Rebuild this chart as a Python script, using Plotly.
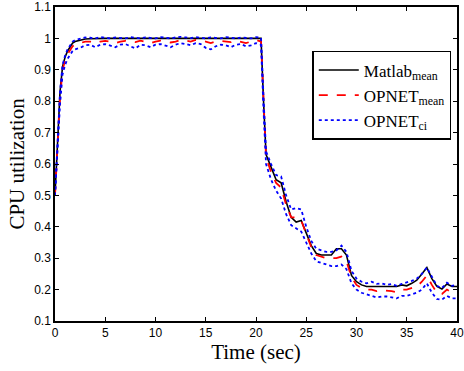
import plotly.graph_objects as go

time_s = [0, 0.25, 0.5, 0.75, 1, 1.25, 1.5, 1.75, 2,
          2.5, 3, 3.5, 4, 4.5, 5, 5.5, 6, 6.5, 7, 7.5, 8, 8.5, 9, 9.5, 10, 10.5, 11, 11.5, 12,
          12.5, 13, 13.5, 14, 14.5, 15, 15.5, 16, 16.5, 17, 17.5, 18, 18.5, 19, 19.5, 20, 20.5,
          20.75, 21,
          21.5, 22, 22.5, 23, 23.5, 24, 24.5, 25, 25.5, 26, 26.5, 27, 27.5, 28, 28.5, 29, 29.5,
          30, 30.5, 31, 31.5, 32, 32.5, 33, 33.5, 34, 34.5, 35, 35.5, 36, 36.5, 37, 37.5, 38,
          38.5, 39, 39.5, 40]

matlab_mean = [0.5, 0.68, 0.83, 0.91, 0.94, 0.96, 0.975, 0.985, 0.99,
               0.995, 0.998, 0.999, 1.0, 1.0, 1.0, 1.0, 1.0, 1.0, 1.0, 1.0, 1.0, 1.0, 1.0, 1.0,
               1.0, 1.0, 1.0, 1.0, 1.0, 1.0, 1.0, 1.0, 1.0, 1.0, 1.0, 1.0, 1.0, 1.0, 1.0, 1.0,
               1.0, 1.0, 1.0, 1.0, 1.0, 1.0,
               0.80, 0.63,
               0.59, 0.55, 0.54, 0.48, 0.43, 0.415, 0.42, 0.38, 0.34, 0.315,
               0.31, 0.31, 0.31, 0.33, 0.33, 0.31, 0.245, 0.225, 0.215, 0.21,
               0.21, 0.21, 0.21, 0.21, 0.212, 0.21, 0.215, 0.212, 0.22, 0.23,
               0.25, 0.27, 0.235, 0.21, 0.202, 0.218, 0.21, 0.21]

opnet_mean = [0.5, 0.66, 0.81, 0.9, 0.93, 0.95, 0.965, 0.975, 0.98,
              0.985, 0.99, 0.99, 0.985, 0.99, 0.992, 0.99, 0.985, 0.99, 0.992,
              0.99, 0.988, 0.993, 0.99, 0.985, 0.99, 0.993, 0.99, 0.987, 0.99,
              0.995, 0.993, 0.99, 0.995, 0.993, 0.99, 0.985, 0.99, 0.992, 0.99,
              0.988, 0.993, 0.99, 0.985, 0.99, 0.995, 0.99,
              0.79, 0.62,
              0.575, 0.54, 0.525, 0.47, 0.43, 0.43, 0.42, 0.375, 0.335, 0.31,
              0.305, 0.3, 0.3, 0.3, 0.305, 0.29, 0.24, 0.215, 0.205, 0.2,
              0.2, 0.195, 0.198, 0.197, 0.195, 0.192, 0.2, 0.2, 0.205, 0.21,
              0.225, 0.245, 0.215, 0.19, 0.186, 0.2, 0.19, 0.19]

opnet_ci_upper = [0.5, 0.68, 0.83, 0.915, 0.945, 0.965, 0.98, 0.99, 0.995,
                  1.0, 1.003, 1.002, 1.0, 1.004, 1.002, 1.0, 1.003, 1.002, 1.0,
                  1.004, 1.002, 1.0, 1.003, 1.001, 1.0, 1.004, 1.002, 1.0, 1.003,
                  1.005, 1.003, 1.001, 1.004, 1.002, 1.0, 1.003, 1.002, 1.0, 1.004,
                  1.002, 1.0, 1.003, 1.002, 1.0, 1.004, 1.002,
                  0.81, 0.64,
                  0.6, 0.565, 0.56, 0.5, 0.455, 0.46, 0.455, 0.4, 0.355, 0.33,
                  0.325, 0.32, 0.32, 0.325, 0.34, 0.32, 0.26, 0.235, 0.225, 0.22,
                  0.225, 0.218, 0.22, 0.215, 0.218, 0.212, 0.218, 0.222, 0.228, 0.235,
                  0.25, 0.27, 0.24, 0.212, 0.205, 0.222, 0.212, 0.215]

opnet_ci_lower = [0.5, 0.64, 0.79, 0.885, 0.915, 0.935, 0.95, 0.96, 0.965,
                  0.97, 0.978, 0.98, 0.972, 0.98, 0.982, 0.978, 0.972, 0.98, 0.982,
                  0.975, 0.968, 0.98, 0.978, 0.972, 0.98, 0.982, 0.978, 0.972, 0.98,
                  0.985, 0.982, 0.978, 0.985, 0.982, 0.97, 0.965, 0.975, 0.98, 0.978,
                  0.972, 0.98, 0.982, 0.975, 0.978, 0.985, 0.98,
                  0.77, 0.60,
                  0.55, 0.515, 0.49, 0.44, 0.405, 0.395, 0.385, 0.35, 0.315, 0.29,
                  0.285, 0.28, 0.275, 0.275, 0.28, 0.265, 0.22, 0.2, 0.19, 0.185,
                  0.18, 0.175, 0.178, 0.178, 0.175, 0.172, 0.18, 0.18, 0.185, 0.19,
                  0.2, 0.22, 0.19, 0.17, 0.168, 0.18, 0.172, 0.172]

x_ticks = [0, 5, 10, 15, 20, 25, 30, 35, 40]
y_ticks = [0.1, 0.2, 0.3, 0.4, 0.5, 0.6, 0.7, 0.8, 0.9, 1.0, 1.1]
y_tick_labels = ["0.1", "0.2", "0.3", "0.4", "0.5", "0.6", "0.7", "0.8", "0.9", "1", "1.1"]

fig = go.Figure()
fig.add_trace(go.Scatter(x=time_s, y=matlab_mean, mode="lines",
                         name="Matlab<sub>mean</sub>", legendrank=1,
                         line=dict(color="black", width=1.6)))
fig.add_trace(go.Scatter(x=time_s, y=opnet_mean, mode="lines",
                         name="OPNET<sub>mean</sub>", legendrank=2,
                         line=dict(color="#ff0000", width=1.8, dash="dash")))
fig.add_trace(go.Scatter(x=time_s, y=opnet_ci_upper, mode="lines",
                         name="OPNET<sub>ci</sub>", legendrank=3,
                         line=dict(color="#0000ff", width=1.8, dash="dot")))
fig.add_trace(go.Scatter(x=time_s, y=opnet_ci_lower, mode="lines",
                         name="OPNET<sub>ci</sub>", showlegend=False,
                         line=dict(color="#0000ff", width=1.8, dash="dot")))

axis_common = dict(showline=True, linecolor="black", linewidth=1.5, mirror="ticks",
                   ticks="inside", ticklen=4, tickcolor="black", showgrid=False,
                   zeroline=False, automargin=False,
                   tickfont=dict(family="Liberation Sans, Arial", size=12, color="black"))

fig.update_xaxes(range=[0, 40], tickvals=x_ticks,
                 title=dict(text="Time (sec)", standoff=2,
                            font=dict(family="Liberation Serif, Times New Roman", size=21, color="black")),
                 **axis_common)
fig.update_yaxes(range=[0.1, 1.1], tickvals=y_ticks, ticktext=y_tick_labels,
                 title=dict(text="CPU utilization", standoff=4,
                            font=dict(family="Liberation Serif, Times New Roman", size=21, color="black")),
                 **axis_common)

fig.update_layout(
    width=464, height=371,
    margin=dict(l=55, r=7, t=7, b=50),
    plot_bgcolor="white", paper_bgcolor="white",
    legend=dict(x=0.64, y=0.86, xanchor="left", yanchor="top",
                bgcolor="white", bordercolor="black", borderwidth=1.5,
                font=dict(family="Liberation Serif, Times New Roman", size=17, color="black"),
                tracegroupgap=0, itemwidth=40),
)

fig.write_html("out.html", config={"displayModeBar": False},
               post_script="document.body.style.margin='0';document.body.style.overflow='hidden';")
